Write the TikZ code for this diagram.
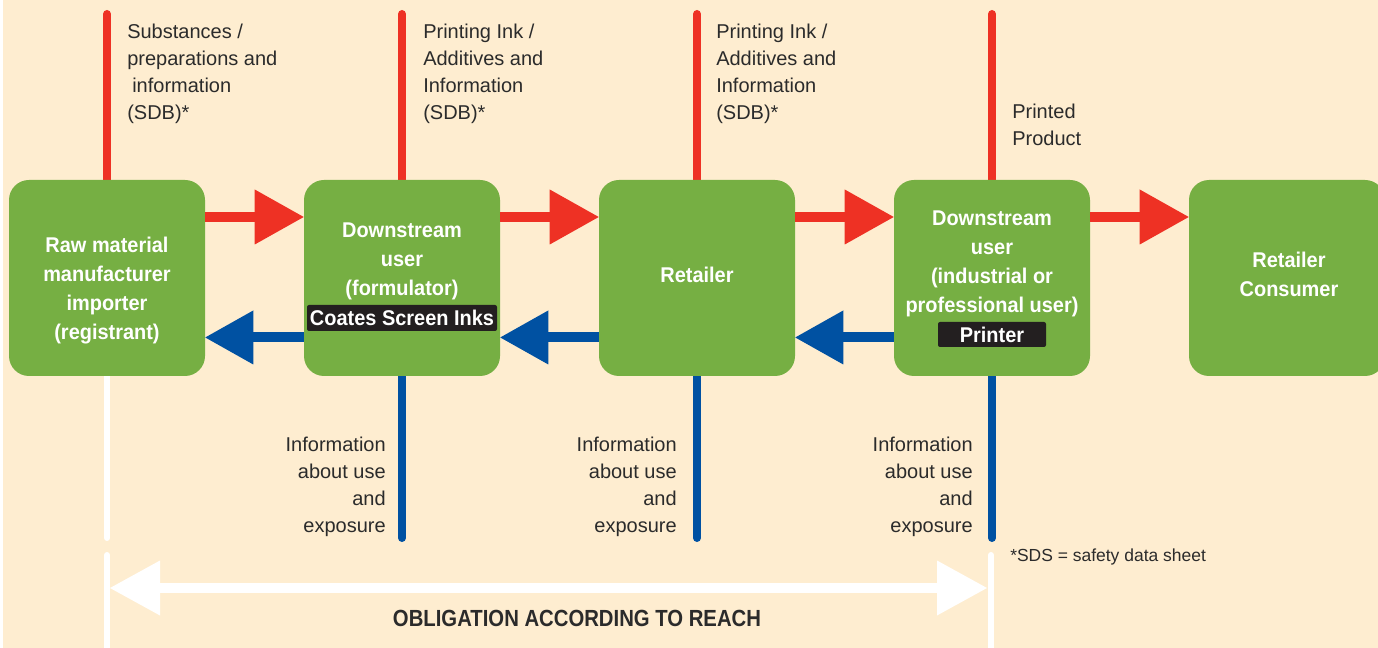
\documentclass[tikz,border=0pt]{standalone}
\usepackage{fontspec}
\setmainfont{Liberation Sans}
\newfontfamily\regf[FakeStretch=1.0]{Liberation Sans}
\newfontfamily\boldf[FakeStretch=0.935]{Liberation Sans}
\newfontfamily\condf[FakeStretch=0.87]{Liberation Sans}
\usetikzlibrary{arrows.meta,calc}
\definecolor{bgc}{HTML}{FEEDD0}
\definecolor{grn}{HTML}{76AF43}
\definecolor{rd}{HTML}{EE3124}
\definecolor{bl}{HTML}{0051A2}
\definecolor{ink}{HTML}{2B2B2B}
\definecolor{tagc}{HTML}{231F20}
\pgfdeclarelayer{back}
\pgfdeclarelayer{lines}
\pgfsetlayers{back,lines,main}
\begin{document}
\begin{tikzpicture}[x=0.75pt,y=-0.75pt,
  box/.style={fill=grn, rounded corners=15pt, minimum width=147pt, minimum height=147pt, inner sep=0pt},
  boxtxt/.style={text=white, inner sep=0pt, align=center, font=\boldf\bfseries\fontsize{16}{21.75}\selectfont},
  lbl/.style={text=ink, inner sep=0pt, font=\regf\fontsize{15}{20.25}\selectfont},
  tagbox/.style={fill=tagc, text=white, rounded corners=1.5pt, inner sep=0pt, font=\boldf\bfseries\fontsize{16}{18}\selectfont},
  redline/.style={draw=rd, line width=6pt, line cap=round},
  blueline/.style={draw=bl, line width=6pt, line cap=round},
  whiteline/.style={draw=white, line width=4.5pt, line cap=round},
  redarrow/.style={draw=rd, line width=7.5pt, -{Triangle[length=36.75pt,width=41.25pt,line width=0pt]}},
  bluearrow/.style={draw=bl, line width=7.5pt, -{Triangle[length=36pt,width=40.5pt,line width=0pt]}},
  whitearrow/.style={draw=white, line width=7.5pt, {Triangle[length=37.5pt,width=41.25pt,line width=0pt]}-{Triangle[length=37.5pt,width=41.25pt,line width=0pt]}}
]
\useasboundingbox (0,0) rectangle (1378,648);
\begin{pgfonlayer}{back}
  \fill[bgc] (0,0) rectangle (1378,648);
  \fill[white] (0,0) rectangle (2.5,648);
\end{pgfonlayer}
\clip (0,0) rectangle (1378,648);

% boxes
\node[box] (b1) at (107,278) {};
\node[box] (b2) at (402,278) {};
\node[box] (b3) at (697,278) {};
\node[box] (b4) at (992,278) {};
\node[box] (b5) at (1287,278) {};

% coordinates for free ends
\coordinate (t1) at (107,14);
\coordinate (t2) at (402,14);
\coordinate (t3) at (697,14);
\coordinate (t4) at (992,14);
\coordinate (u2) at (402,538);
\coordinate (u3) at (697,538);
\coordinate (u4) at (992,538);
\coordinate (wa1) at (107,538);
\coordinate (wb1) at (107,555);
\coordinate (wc1) at (107,660);
\coordinate (wb4) at (991,555);
\coordinate (wc4) at (991,660);
\coordinate (oL) at (110,588);
\coordinate (oR) at (987,588);

\begin{pgfonlayer}{lines}
  \draw[redline] (t1) -- (b1.north);
  \draw[redline] (t2) -- (b2.north);
  \draw[redline] (t3) -- (b3.north);
  \draw[redline] (t4) -- (b4.north);
  \draw[blueline] (b2.south) -- (u2);
  \draw[blueline] (b3.south) -- (u3);
  \draw[blueline] (b4.south) -- (u4);
  \draw[whiteline] (b1.south) -- (wa1);
  \draw[whiteline] (wb1) -- (wc1);
  \draw[whiteline] (wb4) -- (wc4);
  \draw[whitearrow] (oL) -- (oR);
\end{pgfonlayer}

% flow arrows
\draw[redarrow] ([yshift=45.75pt]b1.east) -- ([yshift=45.75pt]b2.west);
\draw[redarrow] ([yshift=45.75pt]b2.east) -- ([yshift=45.75pt]b3.west);
\draw[redarrow] ([yshift=45.75pt]b3.east) -- ([yshift=45.75pt]b4.west);
\draw[redarrow] ([yshift=45.75pt]b4.east) -- ([yshift=45.75pt]b5.west);
\draw[bluearrow] ([yshift=-44.6pt]b2.west) -- ([yshift=-44.6pt]b1.east);
\draw[bluearrow] ([yshift=-44.6pt]b3.west) -- ([yshift=-44.6pt]b2.east);
\draw[bluearrow] ([yshift=-44.6pt]b4.west) -- ([yshift=-44.6pt]b3.east);

% box texts
\node[boxtxt] (x1) at (107,291) {Raw material\\manufacturer\\importer\\(registrant)};
\node[boxtxt] (x2) at (402,261.5) {Downstream\\user\\(formulator)};
\node[tagbox, minimum width=142.5pt, minimum height=19.5pt] (g2) at (402,318) {Coates Screen Inks};
\node[boxtxt] (x3) at (697,275) {Retailer};
\node[boxtxt] (x4) at (992,264) {Downstream\\user\\(industrial or\\professional user)};
\node[tagbox, minimum width=81pt, minimum height=18.75pt] (g4) at (992,334.5) {Printer};
\node[boxtxt] (x5) at (1289,274) {Retailer\\Consumer};

% labels
\node[lbl, anchor=north west, align=left] (l1) at (127,24) {Substances /\\preparations and\\\hspace*{3.75pt}information\\(SDB)*};
\node[lbl, anchor=north west, align=left] (l2) at (423,24) {Printing Ink /\\Additives and\\Information\\(SDB)*};
\node[lbl, anchor=north west, align=left] (l3) at (716,24) {Printing Ink /\\Additives and\\Information\\(SDB)*};
\node[lbl, anchor=north west, align=left] (l4) at (1012,104) {Printed\\Product};
\node[lbl, anchor=north east, align=right] (d2) at (386,437) {Information\\about use\\and\\exposure};
\node[lbl, anchor=north east, align=right] (d3) at (677,437) {Information\\about use\\and\\exposure};
\node[lbl, anchor=north east, align=right] (d4) at (973,437) {Information\\about use\\and\\exposure};
\node[text=ink, inner sep=0pt, anchor=north west, font=\regf\fontsize{13.1}{15}\selectfont] (sds) at (1010,549) {*SDS = safety data sheet};
\node[text=ink, inner sep=0pt, font=\condf\bfseries\fontsize{17.5}{20}\selectfont] (obl) at (577,618) {OBLIGATION ACCORDING TO REACH};
\end{tikzpicture}
\end{document}
